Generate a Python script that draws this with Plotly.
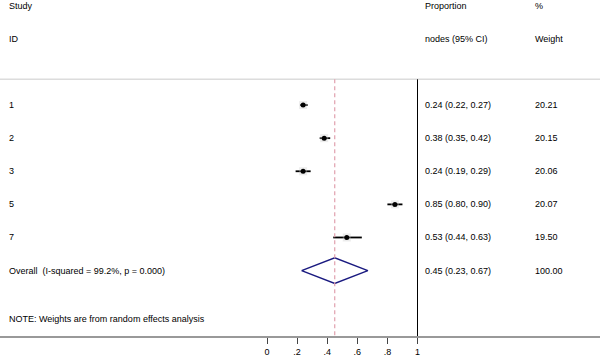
import plotly.graph_objects as go

# ---- data ----
studies = ["1", "2", "3", "5", "7"]
est = [0.24, 0.38, 0.24, 0.85, 0.53]
lo = [0.22, 0.35, 0.19, 0.80, 0.44]
hi = [0.27, 0.42, 0.29, 0.90, 0.63]
weights = ["20.21", "20.15", "20.06", "20.07", "19.50"]
overall_est, overall_lo, overall_hi = 0.45, 0.23, 0.67
overall_weight = "100.00"
overall_label = "Overall  (I-squared = 99.2%, p = 0.000)"
note = "NOTE: Weights are from random effects analysis"
tick_vals = [0, 0.2, 0.4, 0.6, 0.8, 1]
tick_text = ["0", ".2", ".4", ".6", ".8", "1"]

W, H = 600, 357
x0_px, px_per_unit = 267, 150.5
row0_px, row_px = 106, 33.4
bottom_px = 339

xr = [(0 - x0_px) / px_per_unit, (W - x0_px) / px_per_unit]
y_top = (0 - row0_px) / row_px
y_bot = (bottom_px - row0_px) / row_px

rows = list(range(len(studies)))
overall_row = len(studies)
FONT_FAMILY = "Liberation Sans, Arial, sans-serif"
font = dict(family=FONT_FAMILY, size=9, color="#000")

fig = go.Figure()

# CI lines
for r, l, h in zip(rows, lo, hi):
    fig.add_trace(go.Scatter(x=[l, h], y=[r, r], mode="lines",
                             line=dict(color="#000", width=1.8),
                             hoverinfo="skip", showlegend=False))
# weight boxes
fig.add_trace(go.Scatter(x=est, y=rows, mode="markers",
                         marker=dict(symbol="square", size=8, color="rgba(200,200,200,0.35)"),
                         hoverinfo="skip", showlegend=False))
# point estimates
fig.add_trace(go.Scatter(x=est, y=rows, mode="markers",
                         marker=dict(symbol="circle", size=5, color="#000"),
                         showlegend=False))
# overall diamond
dh = 13 / row_px
fig.add_trace(go.Scatter(
    x=[overall_lo, overall_est, overall_hi, overall_est, overall_lo],
    y=[overall_row, overall_row - dh, overall_row, overall_row + dh, overall_row],
    mode="lines", line=dict(color="#1a1a80", width=1.5),
    hoverinfo="skip", showlegend=False))

shapes = []
top_line = (80 - row0_px) / row_px
shapes.append(dict(type="line", xref="paper", yref="y", x0=0, x1=1,
                   y0=top_line, y1=top_line, line=dict(color="#dcdcdc", width=1.5)))
shapes.append(dict(type="line", xref="x", yref="y", x0=1, x1=1,
                   y0=top_line, y1=y_bot, line=dict(color="#000", width=1)))
shapes.append(dict(type="line", xref="x", yref="y", x0=overall_est, x1=overall_est,
                   y0=top_line, y1=y_bot, line=dict(color="#e0a0ae", width=1.2, dash="4px,3px")))

ann = []
def txt(xpx, ypx, s):
    ann.append(dict(x=xpx / W, y=(ypx - row0_px) / row_px, xref="paper", yref="y", text=s,
                    showarrow=False, xanchor="left", yanchor="middle", font=font))

col_id, col_es, col_w = 7, 423, 533
hdr1, hdr2 = 6, 39
txt(col_id, hdr1, "Study")
txt(col_id, hdr2, "ID")
txt(col_es, hdr1, "Proportion")
txt(col_es, hdr2, "nodes (95% CI)")
txt(col_w, hdr1, "%")
txt(col_w, hdr2, "Weight")
for r, s, e, l, h, w in zip(rows, studies, est, lo, hi, weights):
    ypx = row0_px + r * row_px
    txt(col_id, ypx, s)
    txt(col_es, ypx, f"{e:.2f} ({l:.2f}, {h:.2f})")
    txt(col_w, ypx, w)
ypx_o = row0_px + overall_row * row_px
txt(col_id, ypx_o, overall_label)
txt(col_es, ypx_o, f"{overall_est:.2f} ({overall_lo:.2f}, {overall_hi:.2f})")
txt(col_w, ypx_o, overall_weight)
txt(col_id, 322, note)

fig.update_layout(
    width=W, height=H, margin=dict(l=0, r=0, t=0, b=H - bottom_px),
    plot_bgcolor="#fff", paper_bgcolor="#fff",
    shapes=shapes, annotations=ann, showlegend=False,
    xaxis=dict(range=xr, tickvals=tick_vals, ticktext=tick_text, showgrid=False,
               zeroline=False, showline=True, linecolor="#999", linewidth=1.5,
               ticks="outside", ticklen=6, tickcolor="#444", tickwidth=1,
               tickfont=dict(family=FONT_FAMILY, size=9, color="#000"),
               fixedrange=True),
    yaxis=dict(range=[y_bot, y_top], visible=False, showgrid=False, zeroline=False,
               fixedrange=True),
)

fig.write_html("out.html", config={"displayModeBar": False},
               post_script="document.body.style.margin='0';document.body.style.overflow='hidden';")
